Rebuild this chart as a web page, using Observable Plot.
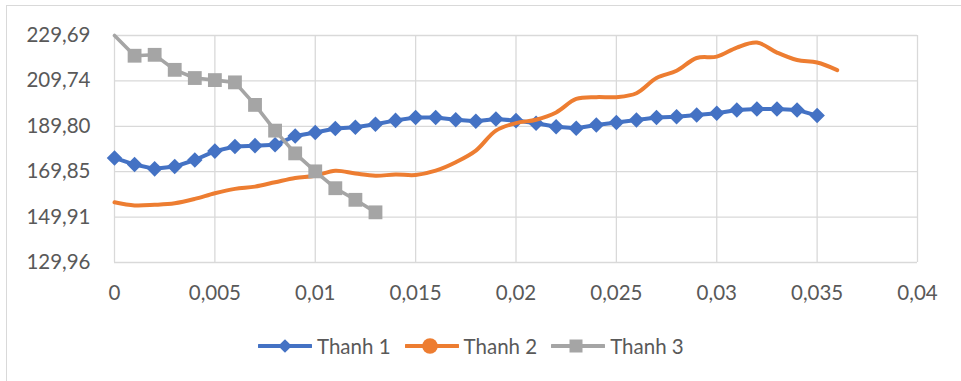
<!DOCTYPE html>
<html>
<head>
<meta charset="utf-8">
<script src="https://cdn.jsdelivr.net/npm/d3@7"></script>
<script src="https://cdn.jsdelivr.net/npm/@observablehq/plot@0.6"></script>
<style>
  html, body { margin: 0; padding: 0; background: #fff; }
  body { width: 961px; height: 381px; position: relative; overflow: hidden; font-family: Lato, "Open Sans", sans-serif; }
  #frame { position: absolute; left: 6px; top: 5px; width: 1000px; height: 400px; border-left: 1px solid #d9d9d9; border-top: 1px solid #d9d9d9; pointer-events: none; }
  #chart { position: absolute; left: 0; top: 0; }
  #legend { position: absolute; left: 258px; top: 333px; display: flex; align-items: center; color: #595959; font-size: 20.5px; line-height: 26px; }
  .item { display: flex; align-items: center; margin-right: 14px; }
  .item svg { margin-right: 5px; }
</style>
</head>
<body>
<div id="chart"></div>
<div id="frame"></div>
<div id="legend"></div>
<script>
// x positions (strain) shared by all series
const xs = [0, 0.001, 0.002, 0.003, 0.004, 0.005, 0.006, 0.007, 0.008, 0.009,
            0.010, 0.011, 0.012, 0.013, 0.014, 0.015, 0.016, 0.017, 0.018, 0.019,
            0.020, 0.021, 0.022, 0.023, 0.024, 0.025, 0.026, 0.027, 0.028, 0.029,
            0.030, 0.031, 0.032, 0.033, 0.034, 0.035, 0.036];

// Thanh 1 (0 .. 0.035)
const thanh1 = [175.9, 173.0, 171.1, 172.1, 175.0, 178.9, 180.9, 181.3, 181.7, 185.5,
                187.1, 188.8, 189.4, 190.7, 192.4, 193.7, 193.7, 192.7, 192.0, 193.0,
                192.3, 191.1, 189.6, 188.9, 190.4, 191.5, 192.6, 193.7, 194.0, 194.8,
                195.5, 197.0, 197.4, 197.4, 197.0, 194.5];

// Thanh 2 (0 .. 0.036), smoothed line
const thanh2 = [156.4, 155.0, 155.3, 156.0, 157.9, 160.4, 162.3, 163.3, 165.2, 167.1,
                168.1, 170.3, 169.1, 168.1, 168.6, 168.4, 170.3, 174.0, 179.1, 187.9,
                191.2, 192.7, 195.9, 201.8, 202.6, 202.6, 204.3, 211.0, 214.2, 219.8,
                220.4, 224.4, 226.6, 222.2, 218.9, 217.8, 214.5];

// Thanh 3 (0 .. 0.013)
const thanh3 = [229.69, 220.8, 221.2, 214.6, 211.0, 210.1, 209.1, 199.2, 187.9, 177.9,
                170.0, 162.6, 157.5, 152.0];

const seriesNames = ["Thanh 1", "Thanh 2", "Thanh 3"];
const seriesColors = ["#4472C4", "#ED7D31", "#A5A5A5"];

const xTicks = [0, 0.005, 0.01, 0.015, 0.02, 0.025, 0.03, 0.035, 0.04];
const xTickLabels = ["0", "0,005", "0,01", "0,015", "0,02", "0,025", "0,03", "0,035", "0,04"];
const yTicks = [129.96, 149.91, 169.85, 189.80, 209.74, 229.69];
const yTickLabels = ["129,96", "149,91", "169,85", "189,80", "209,74", "229,69"];

const toRows = (vals) => vals.map((y, i) => ({x: xs[i], y, i}));
const s1 = toRows(thanh1), s2 = toRows(thanh2), s3 = toRows(thanh3);

const grid = {stroke: "#d9d9d9", strokeOpacity: 1, strokeWidth: 1.3};

const chart = Plot.plot({
  width: 961,
  height: 320,
  marginLeft: 114,
  marginRight: 44,
  marginTop: 35,
  marginBottom: 58,
  style: {fontFamily: "Lato, 'Open Sans', sans-serif", fontSize: "20.5px", color: "#595959", background: "transparent", overflow: "visible"},
  x: {domain: [0, 0.04]},
  y: {domain: [129.96, 229.69]},
  marks: [
    Plot.gridY(yTicks, grid),
    Plot.gridX(xTicks, grid),
    Plot.axisY({ticks: yTicks, tickSize: 0, tickPadding: 24, label: null,
                tickFormat: (d) => yTickLabels[yTicks.indexOf(d)]}),
    Plot.axisX({ticks: xTicks, tickSize: 0, tickPadding: 23, label: null,
                tickFormat: (d) => xTickLabels[xTicks.indexOf(d)]}),
    // Thanh 1: line with diamond markers
    Plot.line(s1, {x: "x", y: "y", stroke: seriesColors[0], strokeWidth: 4}),
    Plot.dot(s1, {x: "x", y: "y", symbol: "diamond2", r: 7, fill: seriesColors[0], stroke: "none"}),
    // Thanh 2: smoothed line
    Plot.line(s2, {x: "x", y: "y", stroke: seriesColors[1], strokeWidth: 4, curve: "catmull-rom"}),
    // Thanh 3: line with square markers
    Plot.line(s3, {x: "x", y: "y", stroke: seriesColors[2], strokeWidth: 3.6}),
    Plot.dot(s3.filter((d) => d.i > 0), {x: "x", y: "y", symbol: "square", r: 7.8, fill: seriesColors[2], stroke: "none"})
  ]
});
document.getElementById("chart").append(chart);

// legend below the plot
const legendSymbols = [
  (g, c) => g.append("path").attr("d", d3.symbol(d3.symbolDiamond2, 120)()).attr("transform", "translate(27,10)").attr("fill", c),
  (g, c) => g.append("circle").attr("cx", 25).attr("cy", 10).attr("r", 7.8).attr("fill", c),
  (g, c) => g.append("rect").attr("x", 18.5).attr("y", 3.5).attr("width", 13).attr("height", 13).attr("fill", c)
];
const legend = d3.select("#legend");
seriesNames.forEach((name, k) => {
  const item = legend.append("div").attr("class", "item");
  const sw = item.append("svg").attr("width", 54).attr("height", 20);
  sw.append("line").attr("x1", 1).attr("x2", 53).attr("y1", 10).attr("y2", 10)
    .attr("stroke", seriesColors[k]).attr("stroke-width", 4).attr("stroke-linecap", "round");
  legendSymbols[k](sw, seriesColors[k]);
  item.append("span").text(name);
});
</script>
</body>
</html>
